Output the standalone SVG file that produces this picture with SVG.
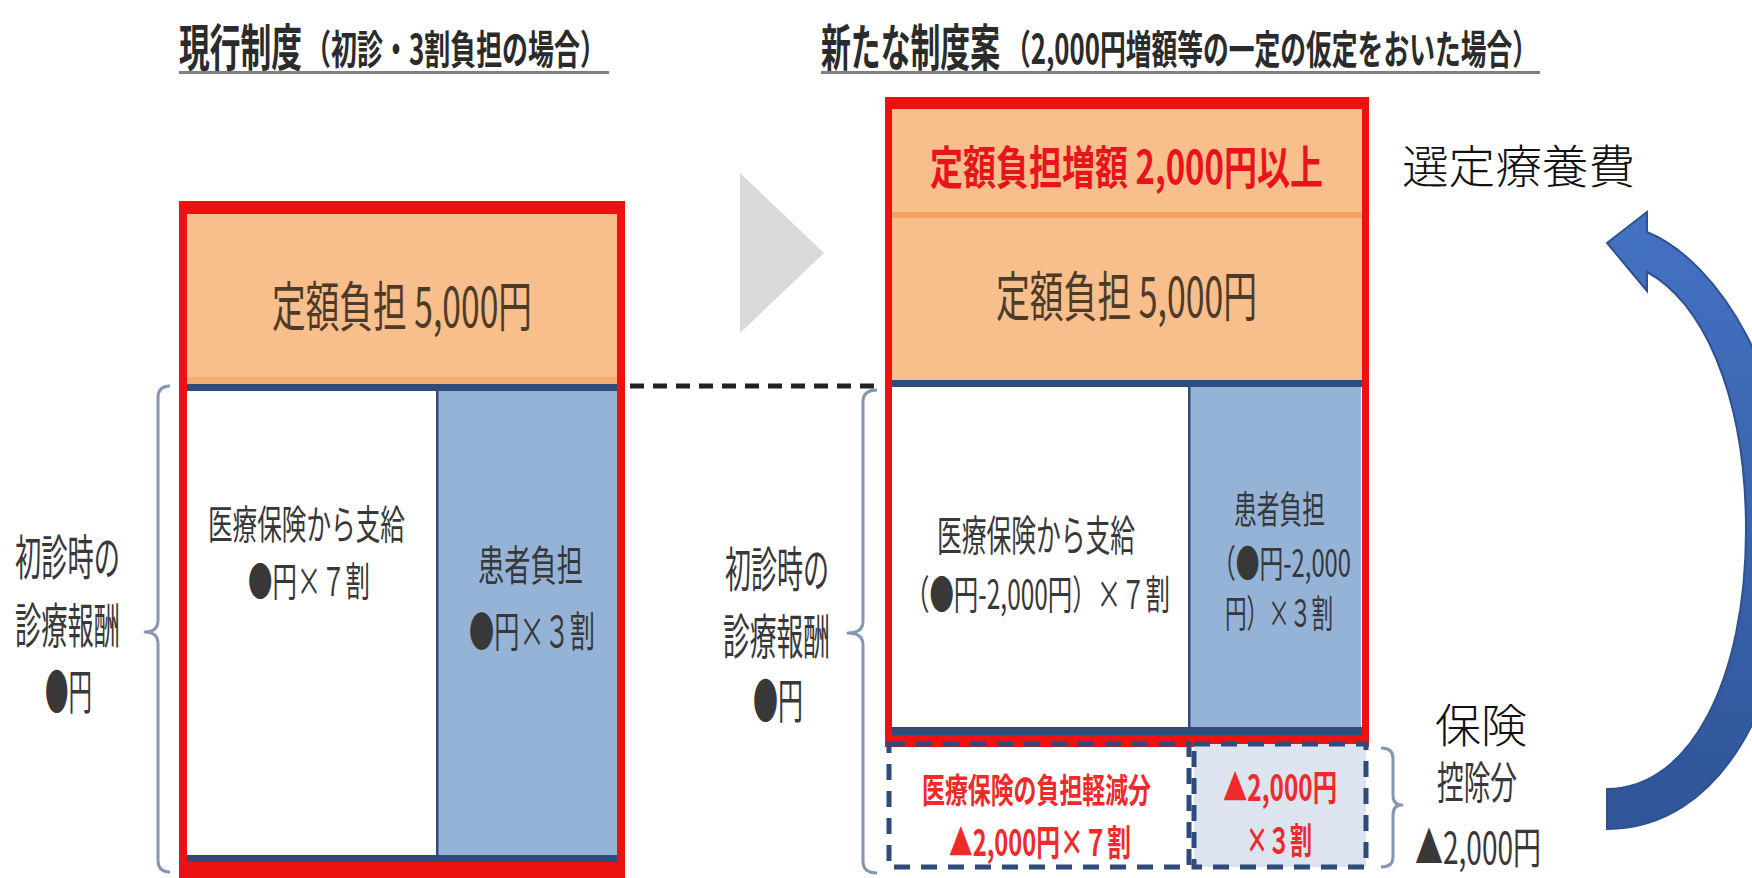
<svg xmlns="http://www.w3.org/2000/svg" width="1752" height="878" viewBox="0 0 1752 878">
<defs>
<style>
text{font-family:"Noto Sans CJK JP","Noto Sans",sans-serif;dominant-baseline:central}
.t{fill:#383838}
.title{font-weight:700;fill:#2b2b2b}
.or{fill:#F8BE8C}
.navy{fill:#2F4B7C}
.blue{fill:#95B3D7}
.red{fill:#EE1111}
.brace{fill:none;stroke:#8496B0;stroke-width:3;stroke-linejoin:round}
.dash{fill:none;stroke:#2F4B7C;stroke-width:5;stroke-dasharray:16 11}
.rt{fill:#EE2A2A;font-weight:700}
.brown{fill:#4D3B2A}
.plain{fill:#111;font-weight:300}
</style>
<linearGradient id="ag" x1="0" y1="0" x2="0" y2="1">
<stop offset="0" stop-color="#4472C4"/>
<stop offset="1" stop-color="#2F5597"/>
</linearGradient>
</defs>
<rect width="1752" height="878" fill="#fff"/>

<g id="title-current">
<text class="title" x="179" y="44" font-size="50" textLength="123" lengthAdjust="spacingAndGlyphs">現行制度</text>
<text class="title" x="305" y="47" font-size="40" textLength="301" lengthAdjust="spacingAndGlyphs">（初診・3割負担の場合）</text>
<rect x="179" y="71" width="430" height="3" fill="#7f7f7f"/>
</g>

<g id="title-new">
<text class="title" x="821" y="44" font-size="50" textLength="179" lengthAdjust="spacingAndGlyphs">新たな制度案</text>
<text class="title" x="1005" y="47" font-size="40" textLength="533" lengthAdjust="spacingAndGlyphs">（2,000円増額等の一定の仮定をおいた場合）</text>
<rect x="821" y="71" width="719" height="3" fill="#7f7f7f"/>
</g>

<g id="box-current">
<rect class="or" x="183" y="209" width="438" height="176"/>
<rect x="183" y="377" width="438" height="7" fill="#F4A062" opacity="0.6"/>
<rect class="navy" x="187" y="384" width="434" height="7"/>
<rect fill="#fff" x="187" y="391" width="250" height="464"/>
<rect class="blue" x="437" y="391" width="180" height="464"/>
<rect class="navy" x="436" y="391" width="2.5" height="464"/>
<rect class="navy" x="187" y="855" width="430" height="7"/>
<rect class="red" x="179" y="862" width="446" height="16"/>
<rect class="red" x="179" y="201" width="446" height="13"/>
<rect class="red" x="179" y="201" width="8" height="677"/>
<rect class="red" x="617" y="201" width="8" height="677"/>
<text class="brown" x="272" y="303" font-size="54" textLength="260" lengthAdjust="spacingAndGlyphs">定額負担 5,000円</text>
<text class="t" x="208" y="522" font-size="40" textLength="197" lengthAdjust="spacingAndGlyphs">医療保険から支給</text>
<text class="t" x="248" y="579" font-size="40" textLength="122" lengthAdjust="spacingAndGlyphs">●円×７割</text>
<text class="t" x="478" y="562" font-size="42" textLength="105" lengthAdjust="spacingAndGlyphs">患者負担</text>
<text class="t" x="469" y="628" font-size="42" textLength="126" lengthAdjust="spacingAndGlyphs">●円×３割</text>
</g>

<g id="label-current">
<text class="t" x="15" y="554" font-size="48" textLength="105" lengthAdjust="spacingAndGlyphs">初診時の</text>
<text class="t" x="15" y="622" font-size="48" textLength="105" lengthAdjust="spacingAndGlyphs">診療報酬</text>
<text class="t" x="45" y="688" font-size="48" textLength="47" lengthAdjust="spacingAndGlyphs">●円</text>
</g>

<g id="box-new">
<rect class="or" x="889" y="108" width="476" height="273"/>
<rect x="889" y="212" width="476" height="6" fill="#F3A465"/>
<rect class="navy" x="892" y="380" width="470" height="7"/>
<rect fill="#fff" x="892" y="387" width="297" height="340"/>
<rect class="blue" x="1189" y="387" width="172" height="340"/>
<rect class="navy" x="1188" y="387" width="2.5" height="340"/>
<rect class="navy" x="892" y="727" width="470" height="8"/>
<rect class="red" x="885" y="735" width="484" height="12"/>
<rect class="red" x="885" y="97" width="484" height="12"/>
<rect class="red" x="885" y="97" width="7" height="650"/>
<rect class="red" x="1362" y="97" width="7" height="650"/>
<text class="rt" x="930" y="164" font-size="46" textLength="393" lengthAdjust="spacingAndGlyphs" style="fill:#E8141B">定額負担増額 2,000円以上</text>
<text class="brown" x="996" y="293" font-size="54" textLength="261" lengthAdjust="spacingAndGlyphs">定額負担 5,000円</text>
<text class="t" x="937" y="532" font-size="42" textLength="198" lengthAdjust="spacingAndGlyphs">医療保険から支給</text>
<text class="t" x="905" y="592" font-size="40" textLength="265" lengthAdjust="spacingAndGlyphs">（●円-2,000円）×７割</text>
<text class="t" x="1234" y="506" font-size="38" textLength="91" lengthAdjust="spacingAndGlyphs">患者負担</text>
<text class="t" x="1212" y="560" font-size="38" textLength="139" lengthAdjust="spacingAndGlyphs">（●円-2,000</text>
<text class="t" x="1225" y="610" font-size="38" textLength="108" lengthAdjust="spacingAndGlyphs">円）×３割</text>
</g>

<g id="reduction">
<rect x="1194" y="744" width="172" height="123" fill="#DCE4F0"/>
<rect class="dash" x="889" y="744" width="300" height="123"/>
<rect class="dash" x="1194" y="744" width="172" height="123"/>
<text class="rt" x="922" y="788" font-size="34" textLength="229" lengthAdjust="spacingAndGlyphs">医療保険の負担軽減分</text>
<text class="rt" x="949" y="840" font-size="36" textLength="182" lengthAdjust="spacingAndGlyphs">▲2,000円×７割</text>
<text class="rt" x="1223" y="785" font-size="36" textLength="114" lengthAdjust="spacingAndGlyphs">▲2,000円</text>
<text class="rt" x="1246" y="838" font-size="36" textLength="66" lengthAdjust="spacingAndGlyphs">×３割</text>
</g>

<g id="label-new">
<text class="t" x="725" y="566" font-size="48" textLength="104" lengthAdjust="spacingAndGlyphs">初診時の</text>
<text class="t" x="723" y="633" font-size="48" textLength="107" lengthAdjust="spacingAndGlyphs">診療報酬</text>
<text class="t" x="753" y="697" font-size="48" textLength="50" lengthAdjust="spacingAndGlyphs">●円</text>
</g>

<g id="label-senteiryouyouhi">
<text class="plain" x="1402" y="163" font-size="46" textLength="233" lengthAdjust="spacingAndGlyphs">選定療養費</text>
</g>

<g id="label-deduction">
<text class="plain" x="1435" y="722" font-size="46" textLength="92" lengthAdjust="spacingAndGlyphs">保険</text>
<text class="t" x="1437" y="780" font-size="44" textLength="80" lengthAdjust="spacingAndGlyphs">控除分</text>
<text class="t" x="1415" y="845" font-size="44" textLength="126" lengthAdjust="spacingAndGlyphs">▲2,000円</text>
</g>

<g id="connectors">
<polygon points="740,173 824,253 740,333" fill="#D9D9D9"/>
<line x1="630" y1="386" x2="880" y2="386" stroke="#222" stroke-width="5" stroke-dasharray="14 9"/>
<path class="brace" d="M170,386 Q158,386 158,398 L158,620 Q158,632 145,632 Q158,632 158,644 L158,860 Q158,872 170,872"/>
<path class="brace" d="M877,390 Q863,390 863,402 L863,621 Q863,633 848,633 Q863,633 863,645 L863,861 Q863,873 877,873"/>
<path class="brace" d="M1381,748 Q1393,748 1393,758 L1393,795 Q1393,805 1402,805 Q1393,805 1393,815 L1393,857 Q1393,867 1381,867"/>
<path d="M1607,243 L1647,212 L1647,232 C1720,262 1792,380 1792,530 C1792,700 1720,829 1607,829 L1607,789 C1690,789 1746,680 1746,530 C1746,390 1700,300 1647,272 L1647,291 Z" fill="url(#ag)" stroke="#2F528F" stroke-width="2"/>
</g>
</svg>
